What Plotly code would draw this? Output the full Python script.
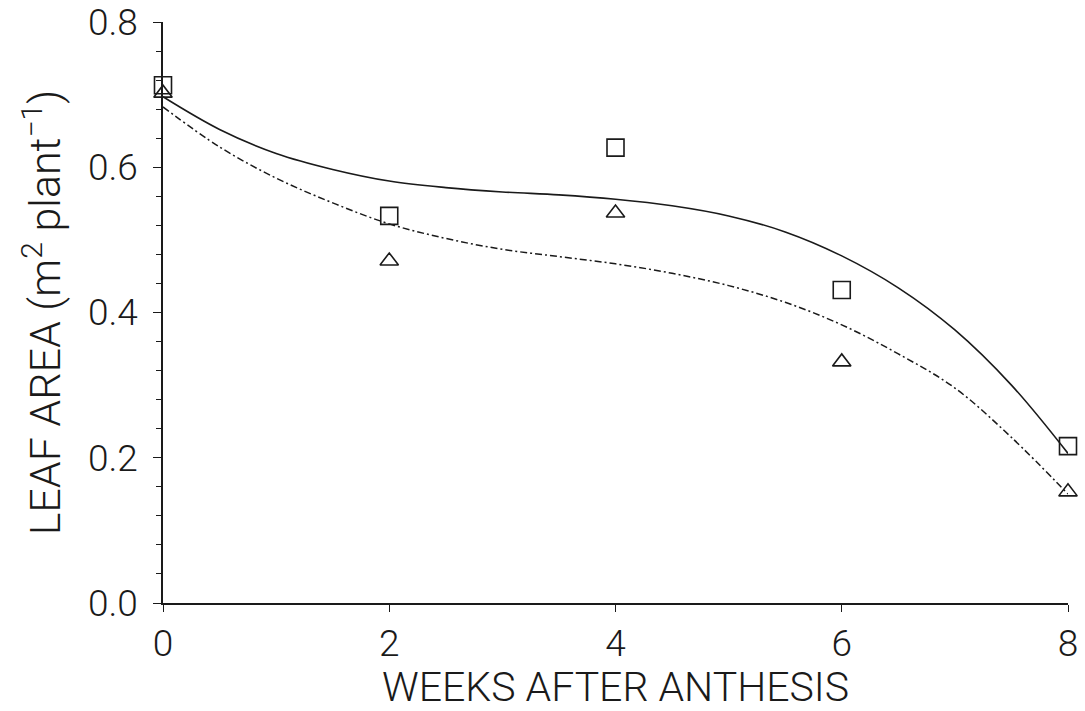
import plotly.graph_objects as go

# Measured leaf area per plant (m^2) at weekly sampling points
weeks = [0, 2, 4, 6, 8]
leaf_area_sq = [0.713, 0.533, 0.627, 0.431, 0.216]
leaf_area_tri = [0.702, 0.471, 0.537, 0.332, 0.153]

# Fitted trend curves, sampled every half week
fit_weeks = [0, 0.5, 1, 1.5, 2, 2.5, 3, 3.5, 4, 4.5, 5, 5.5, 6, 6.5, 7, 7.5, 8]
fit_sq = [0.697, 0.652, 0.619, 0.597, 0.581, 0.572, 0.566, 0.562, 0.556,
          0.547, 0.533, 0.511, 0.478, 0.434, 0.376, 0.300, 0.206]
fit_tri = [0.683, 0.628, 0.585, 0.551, 0.522, 0.502, 0.487, 0.477, 0.467,
           0.454, 0.437, 0.414, 0.383, 0.343, 0.296, 0.228, 0.150]

x_ticks = [0, 2, 4, 6, 8]
y_ticks = [0.0, 0.2, 0.4, 0.6, 0.8]

ink = "#1a1a1a"
font_family = "Roboto, Liberation Sans, sans-serif"

fig = go.Figure()

fig.add_trace(go.Scatter(
    x=fit_weeks, y=fit_sq, mode="lines",
    line=dict(color=ink, width=1.6, shape="spline", smoothing=1.0),
    hoverinfo="skip", showlegend=False, cliponaxis=False,
))
fig.add_trace(go.Scatter(
    x=fit_weeks, y=fit_tri, mode="lines",
    line=dict(color=ink, width=1.5, shape="spline", smoothing=1.0, dash="7px,3px,2px,3px"),
    hoverinfo="skip", showlegend=False, cliponaxis=False,
))
fig.add_trace(go.Scatter(
    x=weeks, y=leaf_area_sq, mode="markers",
    marker=dict(symbol="square-open", size=17, color=ink, line=dict(width=1.6, color=ink)),
    showlegend=False, cliponaxis=False,
))
fig.add_trace(go.Scatter(
    x=weeks, y=leaf_area_tri, mode="markers",
    marker=dict(symbol="triangle-up-open", size=16, color=ink, line=dict(width=1.6, color=ink)),
    showlegend=False, cliponaxis=False,
))

fig.update_layout(
    width=1085, height=711,
    margin=dict(l=163, r=17, t=22, b=108),
    paper_bgcolor="white", plot_bgcolor="white",
    font=dict(family=font_family, color=ink, size=30, weight=300),
    showlegend=False,
)

fig.update_xaxes(
    range=[0, 8], tickvals=x_ticks, ticktext=[str(v) for v in x_ticks],
    automargin=False,
    showgrid=False, zeroline=False,
    showline=True, linecolor=ink, linewidth=1.5,
    ticks="outside", ticklen=7, tickwidth=1.3, tickcolor=ink,
    tickfont=dict(size=37, family=font_family, weight=300),
    title=dict(text="WEEKS AFTER ANTHESIS", standoff=12,
               font=dict(size=41, family=font_family, weight=300)),
)

fig.update_yaxes(
    range=[0, 0.8], tickvals=y_ticks, ticktext=[f"{v:.1f}" for v in y_ticks],
    automargin=False,
    showgrid=False, zeroline=False,
    showline=True, linecolor=ink, linewidth=1.5,
    ticks="outside", ticklen=8, tickwidth=1.3, tickcolor=ink,
    ticklabelstandoff=8,
    minor=dict(dtick=0.04, ticks="outside", ticklen=5, tickwidth=1.1, tickcolor=ink, showgrid=False),
    tickfont=dict(size=37, family=font_family, weight=300),
    title=dict(text="LEAF AREA (m<sup>2</sup> plant<sup>\u22121</sup>)", standoff=14,
               font=dict(size=43, family=font_family, weight=300)),
)

fig.write_html("out.html")
